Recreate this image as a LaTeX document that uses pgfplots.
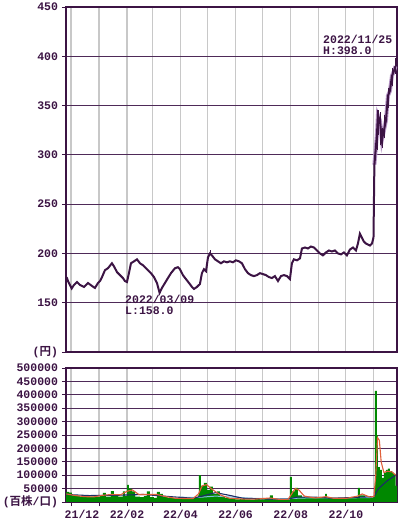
\documentclass[border=0pt]{standalone}
\usepackage{fontspec}
\setmainfont{Liberation Mono}
\newfontfamily\cjk{Noto Sans CJK JP}[BoldFont={Noto Sans CJK JP Bold}]
\usepackage{pgfplots}
\pgfplotsset{compat=1.18}
\definecolor{dpurple}{HTML}{3C1444}
\definecolor{lilac}{HTML}{B898C8}
\definecolor{gridp}{HTML}{4E2A58}
\definecolor{gridg}{HTML}{C8C8C8}
\definecolor{volg}{HTML}{008800}
\definecolor{maor}{HTML}{E0603A}
\definecolor{manv}{HTML}{1C2C66}
\definecolor{malb}{HTML}{80C0E0}
\begin{document}
\fontsize{11.5bp}{13bp}\selectfont\bfseries
\begin{tikzpicture}
\path[use as bounding box] (0,0) rectangle (400bp,524bp);
\pgfplotsset{common/.style={
  scale only axis, width=331bp, anchor=south west,
  xmin=-5.5, xmax=360.5,
  xtick={0,31,62,90,121,151,182,212,243,274,304,335},
  xmajorgrids, ymajorgrids,
  x grid style={gridg, line width=1.1bp},
  y grid style={gridp, line width=0.9bp},
  axis line style={dpurple, line width=1.1bp},
  tick style={dpurple, line width=0.9bp},
  tick align=outside, major tick length=4bp,
  xtick pos=bottom, ytick pos=left,
  ticklabel style={text=dpurple, font=\fontsize{11.5bp}{13bp}\selectfont\bfseries},
}}
% ---------------- price ----------------
\begin{axis}[common, at={(66bp,172bp)}, height=345bp,
  ymin=100, ymax=450,
  ytick={100,150,200,250,300,350,400,450},
  yticklabels={{({\cjk 円})},150,200,250,300,350,400,450},
  xticklabels={}, xtick style={draw=none}]
\addplot[lilac, line width=4bp, mark=none, forget plot] coordinates {
(335.5,290)(338.3,320)(339.4,340)(341.6,335)(343.8,315)(346.1,325)(348.3,335)(350.5,360)(352.7,365)(354.9,380)(357.1,385)(358.8,390)};
\addplot[dpurple, line width=2bp, mark=none] coordinates {
(-4.8,176)(-3.3,172)(0.8,164.5)(3.3,168)(6.6,171)(10,168)(14.4,166)(18.8,170)(23.2,167)(26.5,165)(29.9,170)(32.1,172)(34.3,176)(37.6,183)(40.9,185)(45.3,190)(47.5,187)(50.9,181)(54.2,178)(57.5,175)(59.7,172)(61.9,171)(64.1,180)(66.3,190)(69.7,192)(73,194)(76.3,190)(79.6,188)(82.9,185)(85.1,183)(88.4,180)(91.8,176)(95.1,170)(98,160)(100.6,165)(103.9,170)(107.2,175)(110.6,180)(115,185)(118.3,186)(120.5,184)(123.8,178)(127.1,174)(130.5,170)(133.8,166)(136,164)(139.3,166)(142.6,169)(144.8,180)(147,184)(149.3,182)(151.5,196)(153.7,200)(155.9,198)(159.2,194)(162.5,192)(165.8,190)(169.2,192)(172.5,191)(175.8,192)(179.1,191)(182.4,193)(185.7,192)(189.1,190)(192.4,184)(195.7,180)(199,178)(202.3,177)(205.6,178)(209,180)(212.3,179)(215.6,178)(218.9,176)(222.2,175)(225.5,177)(228.9,172)(232.2,177)(235.5,178)(238.8,177)(242.1,174)(244.3,190)(246.5,194)(249.9,193)(253.2,195)(255.4,205)(258.7,206)(262,205)(265.3,207)(268.7,206)(272,203)(275.3,200)(278.6,198)(281.9,201)(285.2,203)(288.6,202)(291.9,203)(295.2,200)(298.5,199)(301.8,201)(305.1,198)(308.5,204)(311.8,206)(315.1,203)(317.3,210)(319.5,220)(321.7,216)(323.9,212)(326.2,210)(328.4,209)(330.6,208)(332.8,210)(334.5,216)(335.5,290)(338.3,320)(339.4,340)(341.6,335)(343.8,315)(346.1,325)(348.3,335)(350.5,360)(352.7,365)(354.9,380)(357.1,385)(358.8,390)};
\addplot[draw=none, mark=none, forget plot,
  error bars/.cd, y dir=both, y explicit,
  error mark=none, error bar style={draw=dpurple, line width=0.8bp}]
coordinates {
(98,160) += (0,2) -= (0,2)
(153.7,200) += (0,3) -= (0,2)
(335.5,290) += (0,10) -= (0,18)
(338.3,320) += (0,25) -= (0,15)
(339.4,340) += (0,6) -= (0,20)
(341.6,335) += (0,8) -= (0,25)
(343.8,315) += (0,12) -= (0,8)
(346.1,325) += (0,15) -= (0,8)
(350.5,360) += (0,8) -= (0,12)
(354.9,380) += (0,8) -= (0,10)
(358.8,390) += (0,8) -= (0,8)};
\end{axis}
% ---------------- volume ----------------
\begin{axis}[common, at={(66bp,22bp)}, height=134bp,
  ymin=0, ymax=500000, scaled y ticks=false,
  ytick={0,50000,100000,150000,200000,250000,300000,350000,400000,450000,500000},
  yticklabels={{({\cjk 百株}/{\cjk 口})},50000,100000,150000,200000,250000,300000,350000,400000,450000,500000},
  xticklabels={\hspace*{22bp}21/12,,22/02,,22/04,,22/06,,22/08,,22/10,}]
\addplot[const plot, fill=volg, draw=none, mark=none] coordinates {
(-5.5,38000)(-2,35000)(1,25000)(4.4,22000)(10,20000)(15.5,18000)(21,20000)(26.5,18000)(32,22000)(35.4,34000)(38.7,20000)(44.2,41000)(47.5,22000)(52,20000)(57.5,40000)(59.7,22000)(62,64000)(64,50000)(67.4,40000)(70.8,20000)(76.3,18000)(80.7,22000)(84,40000)(87.3,18000)(91.8,15000)(95,38000)(98.4,30000)(101.7,18000)(107,15000)(115,12000)(120.5,14000)(126,12000)(131.6,12000)(136,15000)(140.4,25000)(141.5,100000)(143.7,60000)(147,71000)(150.4,45000)(153.7,57000)(157,30000)(161.4,40000)(164.7,22000)(170.3,15000)(175.8,12000)(181.3,10000)(186.8,12000)(192.4,10000)(198,9000)(203.4,12000)(209,10000)(214.5,12000)(220,25000)(223.3,10000)(229,9000)(234.4,10000)(240,9000)(242,94000)(244.3,40000)(247.7,53000)(251,25000)(255.4,18000)(258.7,15000)(264,14000)(269.8,16000)(275,14000)(281,30000)(283,15000)(288.6,12000)(294,14000)(299.6,15000)(305,14000)(310.7,14000)(317.3,53000)(319.5,25000)(325,18000)(330.6,20000)(334,20000)(336,415000)(338.3,250000)(339.4,130000)(341.6,120000)(343.8,90000)(346,110000)(348.3,120000)(350.5,125000)(352.7,115000)(355,110000)(357,105000)(359,60000)(360.5,60000)} \closedcycle;
\addplot[malb, line width=1bp, mark=none] coordinates {
(120,18000)(140,17000)(160,22000)(180,18000)(200,14000)(230,12000)(260,15000)(290,15000)(320,16000)(334,17000)};
\addplot[manv, line width=1.1bp, mark=none] coordinates {
(-5,28000)(20,24000)(50,25000)(80,28000)(110,20000)(135,14000)(145,22000)(160,35000)(175,25000)(190,14000)(220,11000)(240,11000)(250,18000)(270,18000)(290,14000)(320,18000)(335,20000)(340,50000)(350,80000)(359,100000)};
\addplot[maor, line width=1.1bp, mark=none] coordinates {
(-5,30000)(5,24000)(15,20000)(25,19000)(35,25000)(45,28000)(55,27000)(62,40000)(68,45000)(75,28000)(85,28000)(95,28000)(105,20000)(115,14000)(125,13000)(135,13000)(141,30000)(145,60000)(150,65000)(155,50000)(160,38000)(166,25000)(175,14000)(190,11000)(205,11000)(220,15000)(230,10000)(240,10000)(244,30000)(248,50000)(252,45000)(258,22000)(270,15000)(282,20000)(290,14000)(305,14000)(317,22000)(322,30000)(330,19000)(335,20000)(337,100000)(339,240000)(341,230000)(343,150000)(346,110000)(350,115000)(355,112000)(359,100000)};
\end{axis}
\node[anchor=west, text=dpurple, inner sep=0pt] at (323bp,485bp) {2022/11/25};
\node[anchor=west, text=dpurple, inner sep=0pt] at (323bp,473bp) {H:398.0};
\node[anchor=west, text=dpurple, inner sep=0pt] at (125bp,225bp) {2022/03/09};
\node[anchor=west, text=dpurple, inner sep=0pt] at (125bp,213bp) {L:158.0};
\end{tikzpicture}
\end{document}
